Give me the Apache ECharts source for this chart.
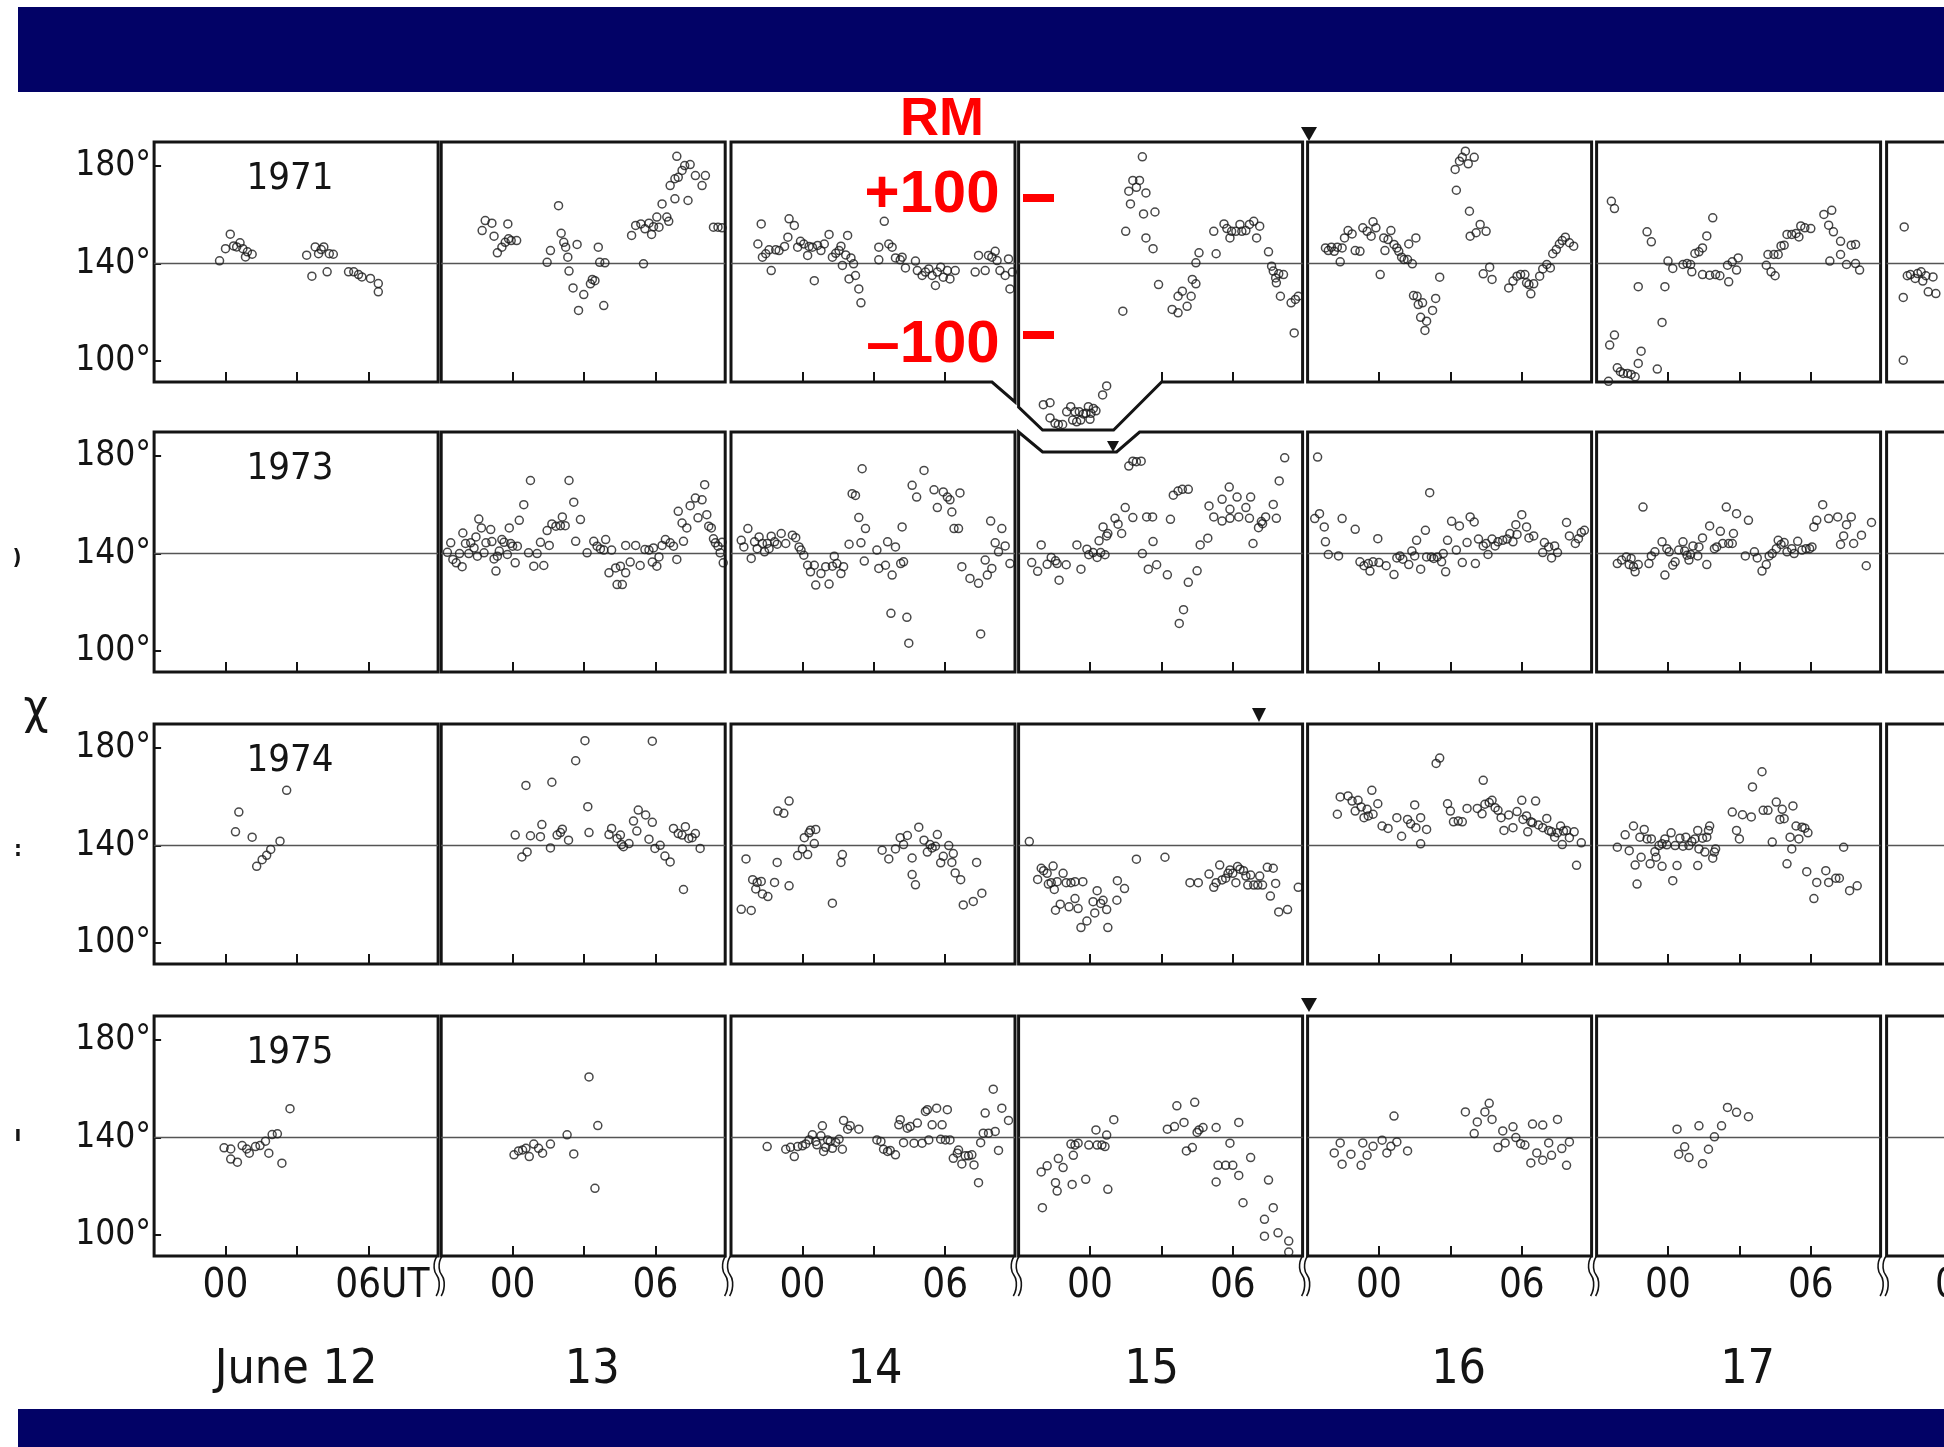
<!DOCTYPE html>
<html><head><meta charset="utf-8">
<script src="https://cdn.jsdelivr.net/npm/echarts@6/dist/echarts.min.js"></script>
<style>html,body{margin:0;padding:0;background:#fff;}#c{width:1944px;height:1447px;}</style>
</head><body><div id="c"></div>
<script>
// ---------- categories / ticks ----------
const years = ['1971','1973','1974','1975'];
const days = ['June 12','13','14','15','16','17',''];
const hourTicks = [0,3,6];
const hourLabelValues = [0,6];
const chiTicks = [100,140,180];
const refChi = 140;
const rmTexts = ['RM','+100','\u2013100'];

// ---------- data: [UT hour, chi degrees] ----------
const r1971_12 = [[-0.25,141.1],[0,146.1],[0.2,152.0],[0.34,147.2],[0.47,146.8],[0.61,148.5],[0.73,146.1],[0.84,142.7],[0.92,144.8],[1.12,143.8],[3.41,143.4],[3.63,134.8],[3.77,146.8],[3.91,144.0],[4.02,145.7],[4.13,146.8],[4.27,136.6],[4.36,144.0],[4.53,143.8],[5.17,136.6],[5.39,136.6],[5.59,135.5],[5.73,134.5],[6.09,133.9],[6.42,131.8],[6.42,128.4]];
const r1971_13 = [[-1.28,153.5],[-1.15,157.6],[-0.87,156.5],[-0.78,151.2],[-0.64,144.4],[-0.45,146.7],[-0.31,148.7],[-0.2,156.2],[-0.17,150.1],[-0.06,149.4],[0.17,149.4],[1.45,140.5],[1.59,145.3],[1.93,163.7],[2.04,152.4],[2.15,148.7],[2.23,146.7],[2.32,142.6],[2.37,136.9],[2.54,130.0],[2.71,147.8],[2.77,120.8],[2.99,127.3],[3.27,131.7],[3.35,133.5],[3.46,133.0],[3.6,146.7],[3.66,140.5],[3.83,122.8],[3.88,140.3],[5.0,151.5],[5.17,155.6],[5.39,156.2],[5.5,139.9],[5.56,154.2],[5.73,156.5],[5.84,151.9],[5.92,155.1],[6.06,159.0],[6.15,154.9],[6.28,164.4],[6.48,159.0],[6.56,157.3],[6.62,171.9],[6.82,166.5],[6.82,174.7],[6.9,183.9],[6.96,175.3],[7.12,178.1],[7.23,180.1],[7.37,165.8],[7.46,180.5],[7.68,176.0],[7.96,171.9],[8.1,176.0],[8.44,154.9],[8.63,154.9],[8.8,154.6]];
const r1971_14 = [[-1.87,148.0],[-1.73,156.2],[-1.68,142.6],[-1.54,144.0],[-1.4,145.6],[-1.31,137.1],[-1.12,145.6],[-0.98,145.3],[-0.75,147.0],[-0.61,150.8],[-0.56,158.3],[-0.34,155.6],[-0.2,146.7],[-0.08,149.1],[0.06,148.0],[0.22,143.3],[0.28,147.0],[0.42,146.7],[0.5,133.0],[0.64,147.4],[0.78,145.3],[0.92,148.0],[1.12,151.9],[1.26,142.6],[1.4,144.2],[1.54,145.3],[1.62,147.1],[1.68,139.2],[1.82,143.5],[1.9,151.5],[1.96,133.7],[2.04,142.3],[2.15,139.9],[2.23,135.1],[2.37,129.6],[2.46,123.9],[3.21,141.5],[3.21,146.7],[3.44,157.3],[3.63,148.0],[3.77,146.7],[3.91,142.3],[4.11,141.5],[4.19,142.6],[4.33,138.2],[4.75,141.0],[4.83,137.1],[5.03,135.1],[5.17,136.5],[5.31,137.8],[5.45,135.1],[5.59,131.0],[5.67,136.5],[5.81,138.5],[5.92,134.4],[6.09,137.1],[6.2,133.7],[6.42,137.1],[7.26,136.5],[7.4,143.3],[7.68,137.1],[7.82,143.3],[7.96,142.6],[8.1,145.0],[8.18,141.2],[8.3,137.1],[8.52,135.1],[8.66,141.9],[8.72,129.6],[8.82,136.5]];
const r1971_15 = [[-1.96,82.2],[-1.68,83.0],[-1.68,76.8],[-1.47,74.6],[-1.33,74.1],[-1.15,74.1],[-0.98,79.3],[-0.81,81.4],[-0.73,75.9],[-0.63,79.3],[-0.56,75.2],[-0.45,79.3],[-0.39,75.9],[-0.28,78.4],[-0.17,78.7],[-0.07,81.4],[0,76.2],[0.04,78.7],[0.14,80.7],[0.25,79.7],[0.53,86.2],[0.7,89.9],[1.38,120.5],[1.5,153.2],[1.63,169.6],[1.7,164.4],[1.8,174.0],[1.95,171.2],[2.08,174.0],[2.2,183.7],[2.25,160.3],[2.35,168.9],[2.35,150.5],[2.65,146.1],[2.73,161.1],[2.88,131.4],[3.45,121.2],[3.7,119.8],[3.7,126.6],[3.88,128.7],[4.08,122.5],[4.25,126.6],[4.3,133.5],[4.45,131.7],[4.45,140.3],[4.58,144.4],[5.2,153.2],[5.3,144.0],[5.63,156.2],[5.75,154.3],[5.88,150.5],[5.95,153.2],[6.13,153.2],[6.3,156.0],[6.38,153.2],[6.55,153.5],[6.7,156.0],[6.88,157.3],[7.0,150.5],[7.13,155.3],[7.5,144.8],[7.63,138.9],[7.7,136.9],[7.8,134.1],[7.83,132.1],[7.93,135.8],[8.0,126.6],[8.13,135.5],[8.45,123.9],[8.58,111.6],[8.63,125.3],[8.75,126.6]];
const r1971_16 = [[-2.25,146.4],[-2.13,145.3],[-2.0,146.7],[-1.88,145.0],[-1.75,146.7],[-1.63,140.7],[-1.55,146.4],[-1.45,150.5],[-1.3,153.5],[-1.13,152.1],[-1.0,145.3],[-0.8,145.0],[-0.68,154.6],[-0.5,153.2],[-0.33,151.2],[-0.25,157.1],[-0.13,154.6],[0.05,135.5],[0.2,150.5],[0.25,145.3],[0.38,149.8],[0.5,153.5],[0.63,147.8],[0.75,146.4],[0.83,145.0],[0.95,142.6],[1.05,141.6],[1.2,141.6],[1.25,148.0],[1.4,139.9],[1.45,126.9],[1.55,150.5],[1.6,126.6],[1.65,123.2],[1.75,118.0],[1.83,123.9],[1.93,112.6],[2.0,116.4],[2.25,120.8],[2.38,125.7],[2.55,134.4],[3.2,178.5],[3.25,170.0],[3.38,181.9],[3.5,183.5],[3.63,186.0],[3.75,180.8],[3.8,161.4],[3.83,151.2],[4.0,183.5],[4.08,152.6],[4.25,156.0],[4.38,135.8],[4.5,153.2],[4.65,138.5],[4.75,133.5],[5.45,130.0],[5.63,132.8],[5.8,134.8],[5.95,135.5],[6.13,135.5],[6.2,132.1],[6.3,131.4],[6.38,127.6],[6.5,131.7],[6.75,134.8],[6.88,137.8],[7.05,139.6],[7.2,138.2],[7.3,144.0],[7.45,145.7],[7.58,148.0],[7.7,149.4],[7.83,150.8],[8.0,148.5],[8.18,147.1]];
const r1971_17 = [[-2.5,91.8],[-2.45,106.6],[-2.38,165.5],[-2.25,162.5],[-2.25,110.7],[-2.13,97.3],[-2.0,95.7],[-1.88,95.0],[-1.7,95.0],[-1.55,94.6],[-1.38,93.6],[-1.25,99.1],[-1.13,104.1],[-1.25,130.5],[-0.88,153.0],[-0.7,148.9],[-0.45,96.8],[-0.25,115.9],[-0.13,130.5],[0,141.0],[0.2,138.0],[0.63,139.6],[0.8,140.0],[0.95,139.6],[1.0,136.6],[1.13,144.1],[1.3,144.8],[1.45,146.4],[1.45,135.5],[1.63,151.3],[1.75,135.2],[1.88,158.7],[2.0,135.5],[2.18,135.0],[2.5,139.3],[2.55,132.5],[2.7,140.7],[2.88,137.3],[2.95,142.3],[4.13,139.3],[4.2,143.7],[4.33,136.6],[4.45,143.7],[4.5,135.0],[4.63,143.7],[4.75,147.2],[4.88,147.5],[5.0,151.9],[5.2,151.9],[5.38,152.3],[5.5,150.9],[5.58,155.4],[5.75,154.6],[6.0,154.3],[6.55,160.1],[6.88,161.8],[6.75,155.7],[6.95,153.0],[6.8,141.0],[7.25,149.1],[7.25,143.7],[7.5,139.6],[7.7,147.5],[7.88,147.8],[7.88,140.0],[8.05,137.3]];
const r1971_18 = [[-2.3,126.1],[-2.3,100.4],[-2.26,155.0],[-2.13,135.0],[-2.0,135.5],[-1.8,133.9],[-1.7,135.9],[-1.55,136.6],[-1.48,132.8],[-1.35,135.0],[-1.25,128.4],[-1.05,134.5],[-0.93,127.7]];

const r1973_12 = [];
const r1973_13 = [[-2.74,140.5],[-2.6,144.4],[-2.51,137.6],[-2.37,136.2],[-2.23,140.0],[-2.12,134.6],[-2.09,148.4],[-1.98,144.1],[-1.84,140.0],[-1.76,144.4],[-1.62,142.3],[-1.54,146.8],[-1.48,138.9],[-1.42,154.1],[-1.31,150.5],[-1.2,140.3],[-1.12,144.4],[-0.92,149.8],[-0.87,144.9],[-0.78,137.8],[-0.7,132.8],[-0.64,138.9],[-0.56,141.0],[-0.45,145.7],[-0.36,144.6],[-0.22,139.6],[-0.14,150.5],[-0.08,144.1],[0,143.0],[0.11,136.2],[0.2,143.0],[0.28,153.6],[0.47,160.0],[0.67,140.3],[0.75,169.9],[0.89,134.8],[1.03,140.0],[1.17,144.6],[1.31,135.1],[1.45,149.4],[1.54,143.3],[1.65,152.1],[1.82,151.2],[2.01,151.4],[2.09,155.0],[2.21,151.4],[2.37,169.9],[2.57,161.0],[2.65,145.0],[2.85,153.9],[3.13,140.3],[3.41,145.0],[3.55,143.0],[3.69,141.9],[3.83,141.4],[3.91,145.7],[4.05,132.1],[4.16,141.4],[4.33,134.1],[4.39,127.3],[4.53,134.8],[4.61,127.3],[4.75,132.1],[4.75,143.3],[4.94,136.5],[5.17,143.3],[5.36,135.1],[5.56,141.6],[5.73,141.4],[5.87,136.5],[5.92,142.3],[6.06,134.8],[6.15,138.6],[6.28,143.3],[6.42,145.7],[6.62,144.4],[6.76,143.0],[6.9,137.6],[6.96,157.3],[7.12,152.5],[7.18,145.0],[7.32,150.5],[7.46,159.6],[7.68,162.7],[7.79,154.6],[7.96,162.0],[8.07,168.2],[8.16,155.9],[8.24,151.2],[8.35,150.5],[8.44,146.0],[8.52,144.4],[8.63,143.0],[8.72,140.3],[8.8,144.6],[8.85,136.2]];
const r1973_14 = [[-2.57,145.4],[-2.46,142.7],[-2.29,150.2],[-2.15,138.0],[-2.01,144.8],[-1.9,142.0],[-1.82,146.8],[-1.68,144.1],[-1.59,140.7],[-1.48,144.1],[-1.4,142.0],[-1.31,147.1],[-1.17,144.8],[-1.06,143.8],[-0.89,148.2],[-0.7,144.1],[-0.42,147.5],[-0.28,146.5],[-0.14,142.7],[-0.06,141.4],[0.06,139.3],[0.22,135.2],[0.34,132.5],[0.5,135.2],[0.56,127.1],[0.78,131.8],[0.98,134.6],[1.12,127.5],[1.26,134.8],[1.34,138.9],[1.45,135.9],[1.62,131.8],[1.73,134.6],[1.96,143.8],[2.09,164.5],[2.23,163.8],[2.37,154.7],[2.46,144.4],[2.51,174.7],[2.6,136.9],[2.65,150.2],[3.13,141.4],[3.21,133.9],[3.49,135.2],[3.58,144.8],[3.72,115.5],[3.77,131.2],[3.91,142.7],[4.13,135.9],[4.19,150.9],[4.25,136.6],[4.39,113.9],[4.47,103.3],[4.61,167.9],[4.8,163.1],[5.11,174.0],[5.53,166.1],[5.67,158.8],[5.92,165.2],[6.09,163.1],[6.2,162.0],[6.28,157.0],[6.37,150.2],[6.56,150.2],[6.62,164.8],[6.7,134.6],[7.04,129.8],[7.4,127.8],[7.49,107.1],[7.68,137.3],[7.77,131.2],[7.91,153.3],[7.96,133.9],[8.1,144.4],[8.24,140.7],[8.38,150.2],[8.52,143.1],[8.72,135.9]];
const r1973_15 = [[-2.45,136.3],[-2.2,132.7],[-2.05,143.5],[-1.8,135.6],[-1.63,138.4],[-1.45,137.0],[-1.38,135.9],[-1.3,129.1],[-1.0,135.4],[-0.55,143.5],[-0.38,133.6],[-0.13,141.8],[-0.05,139.5],[0.13,140.4],[0.3,138.4],[0.38,145.2],[0.45,140.4],[0.63,139.5],[0.55,150.9],[0.7,147.2],[0.75,148.2],[1.05,154.4],[1.18,152.0],[1.33,148.2],[1.48,158.8],[1.63,175.8],[1.8,177.8],[1.95,177.6],[2.15,177.8],[1.8,154.7],[2.2,140.0],[2.38,155.0],[2.45,133.6],[2.63,155.0],[2.65,144.9],[2.8,135.4],[3.25,131.3],[3.38,154.0],[3.5,163.9],[3.7,165.6],[3.88,166.3],[4.13,166.3],[3.75,111.4],[3.93,117.0],[4.13,128.2],[4.5,132.9],[4.63,143.5],[4.95,146.3],[5.0,159.5],[5.2,155.0],[5.55,162.2],[5.55,153.3],[5.85,167.2],[5.88,158.1],[5.88,154.4],[6.18,163.1],[6.25,155.0],[6.55,158.8],[6.75,163.1],[6.7,154.4],[6.85,144.1],[7.08,150.6],[7.2,153.1],[7.25,152.2],[7.38,155.0],[7.7,160.1],[7.83,154.4],[7.95,169.7],[8.18,179.2]];
const r1973_16 = [[-2.7,154.3],[-2.58,179.5],[-2.5,156.3],[-2.3,150.9],[-2.25,144.8],[-2.13,139.6],[-1.7,139.0],[-1.55,154.3],[-1.0,149.9],[-0.8,136.6],[-0.63,135.0],[-0.45,135.9],[-0.38,132.8],[-0.25,136.6],[-0.05,146.1],[0,136.3],[0.3,135.0],[0.63,131.4],[0.75,138.2],[0.88,139.0],[1.0,137.7],[1.25,135.5],[1.38,141.0],[1.5,139.0],[1.58,145.4],[1.75,133.6],[1.95,149.5],[2.0,138.6],[2.13,164.9],[2.2,138.6],[2.3,138.0],[2.45,138.6],[2.63,136.6],[2.7,140.0],[2.8,132.5],[2.88,145.4],[3.05,153.2],[3.25,141.4],[3.38,151.3],[3.5,136.3],[3.7,144.5],[3.83,155.0],[4.0,152.9],[4.05,135.9],[4.18,145.9],[4.38,143.1],[4.5,144.1],[4.58,139.6],[4.75,145.9],[4.88,143.1],[5.0,144.8],[5.2,145.4],[5.38,145.9],[5.5,148.2],[5.63,144.8],[5.75,151.8],[5.8,147.8],[6.0,155.9],[6.2,150.9],[6.3,146.4],[6.5,147.2],[6.88,140.4],[6.95,144.5],[7.13,142.7],[7.25,138.2],[7.38,143.1],[7.5,140.4],[7.88,152.7],[8.0,147.2],[8.25,144.1],[8.38,146.1],[8.5,148.6],[8.63,149.5]];
const r1973_17 = [[-2.13,135.9],[-1.95,137.3],[-1.75,138.6],[-1.63,135.5],[-1.55,138.0],[-1.45,134.6],[-1.38,132.5],[-1.25,135.5],[-1.05,159.0],[-0.8,135.9],[-0.7,139.0],[-0.55,140.7],[-0.25,144.8],[-0.13,131.2],[-0.05,142.0],[0.05,140.7],[0.2,135.2],[0.3,136.6],[0.45,141.4],[0.63,144.8],[0.7,141.0],[0.8,139.3],[0.88,137.3],[0.95,139.6],[1.05,143.1],[1.25,139.0],[1.3,142.7],[1.45,146.4],[1.63,135.5],[1.75,151.3],[1.95,142.0],[2.05,142.7],[2.2,149.1],[2.3,144.1],[2.45,159.0],[2.55,144.1],[2.7,144.1],[2.75,148.2],[2.88,156.3],[3.25,139.0],[3.38,153.6],[3.63,140.7],[3.75,138.2],[3.95,132.8],[4.13,135.5],[4.25,139.0],[4.38,140.0],[4.55,142.0],[4.63,145.4],[4.75,143.7],[4.88,144.5],[5.0,140.7],[5.2,142.0],[5.3,140.0],[5.45,145.0],[5.63,141.4],[5.8,142.0],[5.95,142.0],[6.05,142.7],[6.13,150.9],[6.25,153.6],[6.5,160.0],[6.75,154.3],[7.13,155.0],[7.25,143.7],[7.38,147.2],[7.5,151.8],[7.7,155.0],[7.8,144.1],[8.13,147.5],[8.33,135.0],[8.55,152.7]];
const r1973_18 = [];

const r1974_12 = [[0.42,145.6],[0.56,153.7],[1.12,143.4],[1.31,131.5],[1.54,134.2],[1.73,136.0],[1.9,138.4],[2.29,141.8],[2.57,162.6]];
const r1974_13 = [[0.11,144.3],[0.39,135.3],[0.61,137.4],[0.75,144.0],[0.56,164.6],[1.17,143.6],[1.23,148.6],[1.59,139.0],[1.65,165.9],[1.87,144.3],[2.01,145.3],[2.09,146.7],[2.35,142.2],[2.65,174.7],[3.04,182.9],[3.16,155.9],[3.21,145.3],[4.05,144.5],[4.16,147.0],[4.39,142.9],[4.53,144.3],[4.58,140.4],[4.66,139.5],[4.89,140.8],[5.08,150.0],[5.22,145.9],[5.28,154.5],[5.59,152.5],[5.73,142.6],[5.87,149.5],[5.87,182.7],[5.98,138.8],[6.2,140.1],[6.4,135.7],[6.62,133.3],[6.76,147.0],[6.96,144.9],[7.12,144.3],[7.18,122.0],[7.26,147.7],[7.4,142.9],[7.54,143.2],[7.68,144.9],[7.88,138.8]];
const r1974_14 = [[-2.57,113.9],[-2.37,134.5],[-2.15,113.4],[-2.09,126.0],[-1.96,122.2],[-1.9,124.9],[-1.73,125.3],[-1.68,120.2],[-1.45,119.1],[-1.17,124.9],[-1.06,133.1],[-1.03,154.1],[-0.78,153.2],[-0.56,158.2],[-0.56,123.5],[-0.2,135.9],[0,138.6],[0.08,143.2],[0.22,136.3],[0.28,145.2],[0.34,146.3],[0.5,140.8],[0.56,146.6],[1.26,116.4],[1.62,133.1],[1.68,136.3],[3.35,138.1],[3.63,134.5],[3.91,138.6],[4.11,143.2],[4.25,140.4],[4.41,144.1],[4.61,134.9],[4.61,128.1],[4.75,123.9],[4.89,147.5],[5.11,142.2],[5.25,137.3],[5.36,140.4],[5.45,139.0],[5.59,139.7],[5.67,144.5],[5.81,132.9],[5.92,135.6],[6.15,140.0],[6.28,133.1],[6.34,136.7],[6.42,128.8],[6.65,126.0],[6.76,115.7],[7.18,117.1],[7.32,133.1],[7.54,120.5]];
const r1974_15 = [[-2.55,141.6],[-2.2,126.1],[-2.05,130.7],[-1.95,129.7],[-1.8,128.6],[-1.75,124.2],[-1.63,124.8],[-1.55,131.6],[-1.5,122.0],[-1.45,113.5],[-1.38,125.2],[-1.25,116.0],[-1.13,128.6],[-1.0,124.8],[-0.88,114.9],[-0.8,124.8],[-0.63,118.3],[-0.63,125.2],[-0.5,114.2],[-0.3,125.2],[-0.38,106.4],[-0.13,109.1],[0.13,117.0],[0.2,112.4],[0.3,121.5],[0.45,116.3],[0.55,117.6],[0.7,113.8],[0.75,106.4],[1.13,117.6],[1.15,125.6],[1.45,122.4],[1.95,134.4],[3.15,135.2],[4.2,124.8],[4.55,124.8],[5.0,128.3],[5.2,122.9],[5.3,124.8],[5.45,132.0],[5.55,125.9],[5.7,126.6],[5.8,128.6],[5.88,130.0],[6.0,128.6],[6.13,124.8],[6.2,131.4],[6.3,130.3],[6.45,129.7],[6.55,127.5],[6.63,123.8],[6.75,127.9],[6.88,123.8],[7.05,123.8],[7.13,127.5],[7.25,123.8],[7.45,131.1],[7.58,119.3],[7.7,130.7],[7.8,124.5],[7.93,112.8],[8.3,113.8],[8.75,122.9]];
const r1974_16 = [[-1.75,152.8],[-1.63,159.9],[-1.3,160.3],[-1.13,158.2],[-1.0,154.1],[-0.88,158.5],[-0.75,155.8],[-0.63,151.4],[-0.5,154.8],[-0.45,152.1],[-0.3,162.6],[-0.25,152.8],[-0.05,157.1],[0.13,148.0],[0.38,147.0],[0.75,151.4],[0.95,143.8],[1.2,150.7],[1.33,148.9],[1.5,156.6],[1.55,147.3],[1.75,151.4],[1.75,140.7],[2.0,146.6],[2.4,173.6],[2.55,175.8],[2.88,157.1],[3.0,154.1],[3.13,149.7],[3.33,150.0],[3.5,149.7],[3.7,155.2],[4.13,155.2],[4.33,153.0],[4.38,166.7],[4.45,156.9],[4.63,157.6],[4.75,158.5],[4.88,155.5],[5.0,154.4],[5.13,151.4],[5.25,146.2],[5.45,152.5],[5.63,147.3],[5.8,153.9],[6.0,158.5],[6.05,150.7],[6.2,152.1],[6.25,145.6],[6.38,149.7],[6.45,149.3],[6.58,158.2],[6.7,148.4],[6.88,147.3],[7.05,151.1],[7.13,146.2],[7.25,145.6],[7.38,143.4],[7.5,145.2],[7.63,148.0],[7.7,140.4],[7.75,145.9],[7.88,146.2],[8.0,143.2],[8.2,145.6],[8.3,131.9],[8.5,141.1]];
const r1974_17 = [[-2.13,139.3],[-1.8,144.4],[-1.63,137.9],[-1.45,148.0],[-1.38,132.0],[-1.3,124.2],[-1.18,143.4],[-1.13,135.2],[-1.0,146.6],[-0.88,142.7],[-0.75,132.5],[-0.7,142.7],[-0.55,137.5],[-0.5,135.2],[-0.38,140.0],[-0.25,131.5],[-0.25,140.7],[-0.13,142.7],[-0.05,140.3],[0.13,145.2],[0.2,125.6],[0.3,140.0],[0.38,131.8],[0.5,143.0],[0.63,139.7],[0.75,143.4],[0.88,140.0],[1.0,141.6],[1.13,142.7],[1.25,146.2],[1.25,131.8],[1.3,138.6],[1.45,143.0],[1.55,137.3],[1.63,143.4],[1.7,146.2],[1.75,148.0],[1.88,134.8],[1.95,137.3],[2.0,138.6],[2.7,153.7],[2.88,146.2],[3.0,142.7],[3.13,152.6],[3.5,151.7],[3.55,164.0],[3.95,170.2],[4.0,154.4],[4.2,154.4],[4.38,141.4],[4.55,157.8],[4.7,150.7],[4.8,154.8],[4.88,151.0],[5.0,132.5],[5.13,143.4],[5.2,138.6],[5.25,156.2],[5.38,148.0],[5.5,142.7],[5.63,147.5],[5.75,147.1],[5.83,129.3],[5.88,145.2],[6.13,118.3],[6.25,124.9],[6.63,129.7],[6.75,124.9],[7.05,126.6],[7.2,126.6],[7.38,139.3],[7.63,121.5],[7.95,123.5]];
const r1974_18 = [];

const r1975_12 = [[-0.06,135.8],[0.22,135.3],[0.22,131.2],[0.5,129.9],[0.7,136.7],[0.89,135.3],[1.0,133.6],[1.26,136.3],[1.45,136.7],[1.68,138.5],[1.82,133.6],[1.96,141.2],[2.18,141.5],[2.37,129.5],[2.71,151.8]];
const r1975_13 = [[0.06,132.9],[0.25,134.5],[0.42,134.9],[0.56,135.6],[0.7,132.2],[0.89,137.3],[1.09,135.6],[1.26,133.6],[1.59,137.3],[2.29,141.1],[2.57,133.3],[3.21,164.8],[3.46,119.2],[3.58,144.9]];
const r1975_14 = [[-1.48,136.3],[-0.7,135.2],[-0.5,136.0],[-0.34,132.2],[-0.2,136.3],[0,136.6],[0.14,137.4],[0.28,139.0],[0.42,141.1],[0.56,138.4],[0.61,137.0],[0.78,140.7],[0.84,144.8],[0.89,134.3],[0.98,136.0],[1.06,139.0],[1.17,138.4],[1.26,135.6],[1.4,138.0],[1.54,139.3],[1.68,135.2],[1.73,147.0],[1.9,143.4],[2.01,144.8],[2.37,143.4],[3.13,139.0],[3.3,138.4],[3.41,135.2],[3.58,134.3],[3.69,134.7],[3.91,132.9],[4.05,145.2],[4.11,147.3],[4.25,137.9],[4.41,143.8],[4.53,144.5],[4.69,137.7],[4.83,145.9],[5.03,137.7],[5.17,150.7],[5.25,151.4],[5.31,139.0],[5.45,145.2],[5.64,152.0],[5.81,139.3],[5.87,145.2],[6.01,139.0],[6.09,151.4],[6.2,139.0],[6.34,131.5],[6.51,133.6],[6.56,134.9],[6.7,129.2],[6.84,132.5],[6.98,132.5],[7.12,132.9],[7.21,128.8],[7.4,121.5],[7.49,137.9],[7.6,141.8],[7.68,150.0],[7.82,141.8],[8.02,159.8],[8.1,142.5],[8.24,134.7],[8.38,152.0],[8.66,147.0]];
const r1975_15 = [[-2.05,125.9],[-2.0,111.3],[-1.8,128.4],[-1.45,121.5],[-1.38,118.1],[-1.33,131.4],[-1.13,127.7],[-0.8,137.3],[-0.75,120.8],[-0.7,132.7],[-0.63,136.9],[-0.5,137.7],[-0.18,122.9],[-0.05,136.9],[0.25,143.1],[0.3,136.9],[0.5,136.9],[0.63,136.3],[0.7,141.0],[0.75,118.8],[1.0,147.3],[3.25,143.4],[3.55,144.5],[3.65,153.0],[3.95,146.2],[4.05,134.5],[4.3,135.9],[4.4,154.4],[4.5,142.1],[4.58,143.1],[4.75,144.1],[5.3,144.1],[5.3,121.8],[5.38,128.6],[5.7,128.6],[5.88,137.7],[6.0,128.6],[6.25,146.2],[6.25,124.5],[6.43,113.3],[6.75,131.8],[7.33,106.5],[7.33,99.6],[7.5,122.6],[7.7,111.3],[7.9,101.0],[8.35,97.6],[8.35,93.1]];
const r1975_16 = [[-1.88,133.7],[-1.63,137.8],[-1.55,129.1],[-1.18,133.2],[-0.75,128.6],[-0.68,137.8],[-0.5,132.7],[-0.25,136.4],[0.13,138.9],[0.33,133.7],[0.5,136.4],[0.63,148.8],[0.75,138.2],[1.2,134.5],[3.63,150.5],[4.0,141.6],[4.13,146.4],[4.45,150.5],[4.63,154.0],[4.75,147.4],[5.0,135.9],[5.2,142.7],[5.3,137.8],[5.63,144.4],[5.75,140.0],[5.95,137.5],[6.13,136.9],[6.38,129.6],[6.45,145.5],[6.63,133.7],[6.88,145.1],[6.88,130.7],[7.13,137.8],[7.25,132.7],[7.5,147.4],[7.68,135.5],[7.88,128.6],[8.0,138.2]];
const r1975_17 = [[0.38,143.4],[0.45,133.2],[0.7,136.2],[0.88,131.8],[1.3,144.8],[1.45,129.3],[1.7,135.2],[1.95,140.3],[2.25,144.8],[2.5,152.3],[2.88,150.3],[3.38,148.5]];
const r1975_18 = [];

const DATA = [
  [r1971_12, r1971_13, r1971_14, r1971_15, r1971_16, r1971_17, r1971_18],
  [r1973_12, r1973_13, r1973_14, r1973_15, r1973_16, r1973_17, r1973_18],
  [r1974_12, r1974_13, r1974_14, r1974_15, r1974_16, r1974_17, r1974_18],
  [r1975_12, r1975_13, r1975_14, r1975_15, r1975_16, r1975_17, r1975_18]
];

// ---------- layout (pixels) ----------
const FONT = "'DejaVu Sans Condensed', 'DejaVu Sans', sans-serif";
const ZERO_X = [225.5, 512.6, 802.4, 1090, 1379, 1668, 1958];
const PXH = 23.8, XMIN = -3, PW = 284, XMAX = XMIN + PW / PXH;
const ROW_TOP = [142, 432, 724, 1016], PH = 240, YMIN = 91.5, YMAX = 189.75;
const DAY_NUDGE = [0, 9, 2, -9, 9, 9, 0];   // horizontal shift of day names (px)
const INK = '#141414';
const isSpecial = (r, c) => (r === 0 && (c === 2 || c === 3)) || (r === 1 && c === 3);
const leftOf = c => ZERO_X[c] + XMIN * PXH;

const grids = [], xAxes = [], yAxes = [], series = [];
for (let r = 0; r < 4; r++) {
  for (let c = 0; c < 7; c++) {
    const i = grids.length;
    const nudge = DAY_NUDGE[c];
    grids.push({left: leftOf(c), top: ROW_TOP[r], width: PW, height: PH, containLabel: false,
      outerBoundsMode: 'none',
      show: !isSpecial(r, c), borderColor: INK, borderWidth: 3, backgroundColor: 'rgba(0,0,0,0)'});
    xAxes.push({gridIndex: i, type: 'value', min: XMIN, max: XMAX,
      axisLine: {show: false, onZero: false}, splitLine: {show: false},
      axisTick: {show: true, inside: true, length: 10, customValues: (r === 0 && c === 3) ? [3, 6] : hourTicks,
        lineStyle: {color: INK, width: 2}},
      axisLabel: {show: r === 3, customValues: hourLabelValues,
        formatter: v => v === 0 ? '00' : (c === 0 ? '{sp|}06UT' : '06'),
        rich: {sp: {width: 28}},
        fontSize: 40, margin: 11, color: INK, fontFamily: FONT},
      name: r === 3 ? days[c] : '', nameLocation: 'middle', nameGap: 91,
      nameTextStyle: {fontSize: 48, color: INK, fontFamily: FONT,
        padding: nudge >= 0 ? [0, 0, 0, 2 * nudge] : [0, -2 * nudge, 0, 0]}});
    yAxes.push({gridIndex: i, type: 'value', min: YMIN, max: YMAX, show: c === 0,
      axisLine: {show: false, onZero: false}, splitLine: {show: false},
      axisTick: {show: true, inside: true, length: 7, customValues: chiTicks, lineStyle: {color: INK, width: 2}},
      axisLabel: {customValues: chiTicks, formatter: v => v + '°', fontSize: 35, margin: 3,
        color: INK, fontFamily: FONT}});
    series.push({type: 'line', xAxisIndex: i, yAxisIndex: i, silent: true, symbol: 'none', z: 1,
      data: [[XMIN, refChi], [XMAX, refChi]], lineStyle: {color: '#555', width: 1.6}});
    series.push({type: 'scatter', xAxisIndex: i, yAxisIndex: i, data: DATA[r][c], z: 3,
      symbol: 'circle', symbolSize: 8, clip: !(r === 0 && c === 3),
      itemStyle: {color: 'rgba(255,255,255,0)', borderColor: '#1a1a1a', borderWidth: 1.5}});
  }
}

// ---------- decorations ----------
const g = [];
g.push({type: 'rect', shape: {x: 18, y: 7, width: 1926, height: 85}, style: {fill: '#020266'}});
g.push({type: 'rect', shape: {x: 18, y: 1409, width: 1926, height: 38}, style: {fill: '#020266'}});
const stroke = {fill: 'none', stroke: INK, lineWidth: 3, lineJoin: 'miter'};
{ // 1971 June 14: clipped lower-right corner
  const L = leftOf(2), R = L + PW, T = ROW_TOP[0], B = T + PH;
  g.push({type: 'polygon', shape: {points: [[L, T], [R, T], [R, B + 20], [R - 23, B], [L, B]]}, style: stroke});
}
{ // 1971 June 15: lowered notch
  const L = leftOf(3), R = L + PW, T = ROW_TOP[0], B = T + PH;
  g.push({type: 'polygon', shape: {points: [[L, T], [R, T], [R, B], [L + 143, B], [L + 95, B + 48], [L + 24, B + 48], [L, B + 25]]}, style: stroke});
}
{ // 1973 June 15: top notch
  const L = leftOf(3), R = L + PW, T = ROW_TOP[1], B = T + PH;
  g.push({type: 'polygon', shape: {points: [[L, T], [L + 24, T + 20], [L + 98, T + 20], [L + 121, T], [R, T], [R, B], [L, B]]}, style: stroke});
}
// triangles
[[1309, 141, 16, 14], [1113, 452, 12, 11], [1259, 722, 14, 14], [1309, 1012, 16, 14]].forEach(([x, y, w, h]) => {
  g.push({type: 'polygon', shape: {points: [[x - w / 2, y - h], [x + w / 2, y - h], [x, y]]}, style: {fill: INK}});
});
// year labels
years.forEach((yr, r) => {
  g.push({type: 'text', x: 290, y: ROW_TOP[r] + 37, style: {text: yr, font: '38px ' + FONT, fill: INK, align: 'center', verticalAlign: 'middle'}});
});
// chi label
g.push({type: 'text', x: 36, y: 711, style: {text: 'χ', font: '48px ' + FONT, fill: INK, align: 'center', verticalAlign: 'middle'}});
// cut-off marks at far left
[[')', 17, 558], [':', 18, 850], ['ı', 18, 1135]].forEach(([t, x, y]) => {
  g.push({type: 'text', x: x, y: y, style: {text: t, font: 'bold 22px ' + FONT, fill: INK, align: 'center', verticalAlign: 'middle'}});
});
// RM annotation
const RMF = '"Liberation Sans", Arial, sans-serif';
g.push({type: 'text', x: 942, y: 120, style: {text: rmTexts[0], font: 'bold 54px ' + RMF, fill: '#ff0000', align: 'center', verticalAlign: 'middle'}});
g.push({type: 'text', x: 932, y: 195, style: {text: rmTexts[1], font: 'bold 60px ' + RMF, fill: '#ff0000', align: 'center', verticalAlign: 'middle'}});
g.push({type: 'text', x: 933, y: 345, style: {text: rmTexts[2], font: 'bold 60px ' + RMF, fill: '#ff0000', align: 'center', verticalAlign: 'middle'}});
g.push({type: 'rect', shape: {x: 1023, y: 194, width: 31, height: 8}, style: {fill: '#ff0000'}});
g.push({type: 'rect', shape: {x: 1023, y: 331, width: 31, height: 8}, style: {fill: '#ff0000'}});
// axis-break squiggles under bottom row
for (let c = 0; c < 6; c++) {
  const x = (leftOf(c) + PW + leftOf(c + 1)) / 2;
  const yb = ROW_TOP[3] + PH;
  [-2.5, 2.5].forEach(dx => {
    g.push({type: 'polyline', shape: {points: [[x + dx, yb], [x + dx - 3, yb + 12], [x + dx + 2, yb + 26], [x + dx - 1, yb + 40]], smooth: 0.6},
      style: {stroke: INK, lineWidth: 1.6, fill: 'none'}});
  });
}

const chart = echarts.init(document.getElementById('c'), null, {renderer: 'canvas'});
chart.setOption({
  animation: false,
  backgroundColor: '#ffffff',
  grid: grids, xAxis: xAxes, yAxis: yAxes, series: series,
  graphic: g
});
</script></body></html>
